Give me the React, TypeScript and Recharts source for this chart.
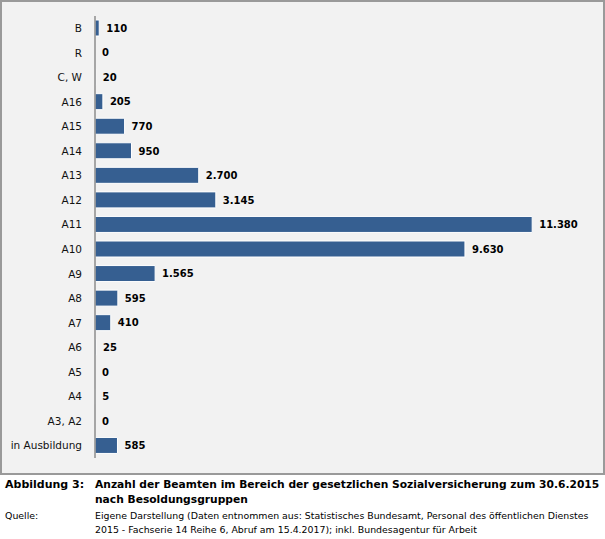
import { ComposedChart, Bar, Line, XAxis, YAxis, LabelList } from 'recharts'

const categories = ['B', 'R', 'C, W', 'A16', 'A15', 'A14', 'A13', 'A12', 'A11', 'A10', 'A9', 'A8', 'A7', 'A6', 'A5', 'A4', 'A3, A2', 'in Ausbildung']
const values = [110, 0, 20, 205, 770, 950, 2700, 3145, 11380, 9630, 1565, 595, 410, 25, 0, 5, 0, 585]

const captionLabel = 'Abbildung 3:'
const captionTitle = ['Anzahl der Beamten im Bereich der gesetzlichen Sozialversicherung zum 30.6.2015', 'nach Besoldungsgruppen']
const sourceLabel = 'Quelle:'
const sourceText = [
    'Eigene Darstellung (Daten entnommen aus: Statistisches Bundesamt, Personal des öffentlichen Dienstes',
    '2015 - Fachserie 14 Reihe 6, Abruf am 15.4.2017);  inkl. Bundesagentur für Arbeit'
]

const data = categories.map((name, i) => ({ name, value: values[i] }))

// German thousands separator
const fmt = (v: any) => String(v).replace(/\B(?=(\d{3})+(?!\d))/g, '.')

const font = '"DejaVu Sans", Verdana, sans-serif'

export default function App() {
    return (
        <div style={{ position: 'absolute', left: 0, top: 0, width: 605, height: 539, background: '#fff', fontFamily: font }}>
            <div style={{ position: 'absolute', left: 0, top: 0, width: 601, height: 471, border: '2px solid #9a9a9a', background: '#f2f2f2' }} />
            <div style={{ position: 'absolute', left: 0, top: 0 }}>
                <ComposedChart
                    width={605}
                    height={474}
                    data={data}
                    layout="vertical"
                    margin={{ top: 16, right: 49, left: 0, bottom: 16 }}
                    barCategoryGap={5}
                >
                    <XAxis type="number" domain={[0, 12000]} hide />
                    <YAxis
                        type="category"
                        dataKey="name"
                        width={95}
                        tickLine={false}
                        tickSize={0}
                        tickMargin={13}
                        axisLine={{ stroke: '#8c8c8c', strokeWidth: 1.5 }}
                        tick={{ fill: '#111', fontSize: 10.5, fontFamily: font }}
                        interval={0}
                    />
                    <Bar dataKey="value" fill="#365f91" stroke="#fff" strokeWidth={1} barSize={16} isAnimationActive={false} />
                    {/* invisible line only carries the value labels, so zero values get one too */}
                    <Line dataKey="value" stroke="none" dot={false} activeDot={false} isAnimationActive={false}>
                        <LabelList
                            dataKey="value"
                            position="right"
                            offset={7}
                            formatter={fmt}
                            style={{ fill: '#000', fontSize: 10, fontWeight: 'bold', fontFamily: font }}
                        />
                    </Line>
                </ComposedChart>
            </div>
            <div style={{ position: 'absolute', left: 5, top: 477, fontSize: 11, fontWeight: 'bold', lineHeight: '15px', color: '#000' }}>
                {captionLabel}
            </div>
            <div style={{ position: 'absolute', left: 95, top: 477, fontSize: 10.7, fontWeight: 'bold', lineHeight: '15px', color: '#000', whiteSpace: 'nowrap' }}>
                {captionTitle.map((t) => <div key={t}>{t}</div>)}
            </div>
            <div style={{ position: 'absolute', left: 5, top: 509, fontSize: 9.4, lineHeight: '14px', color: '#000' }}>
                {sourceLabel}
            </div>
            <div style={{ position: 'absolute', left: 95, top: 509, fontSize: 9.4, lineHeight: '14px', color: '#000', whiteSpace: 'nowrap' }}>
                {sourceText.map((t) => <div key={t}>{t}</div>)}
            </div>
        </div>
    )
}
